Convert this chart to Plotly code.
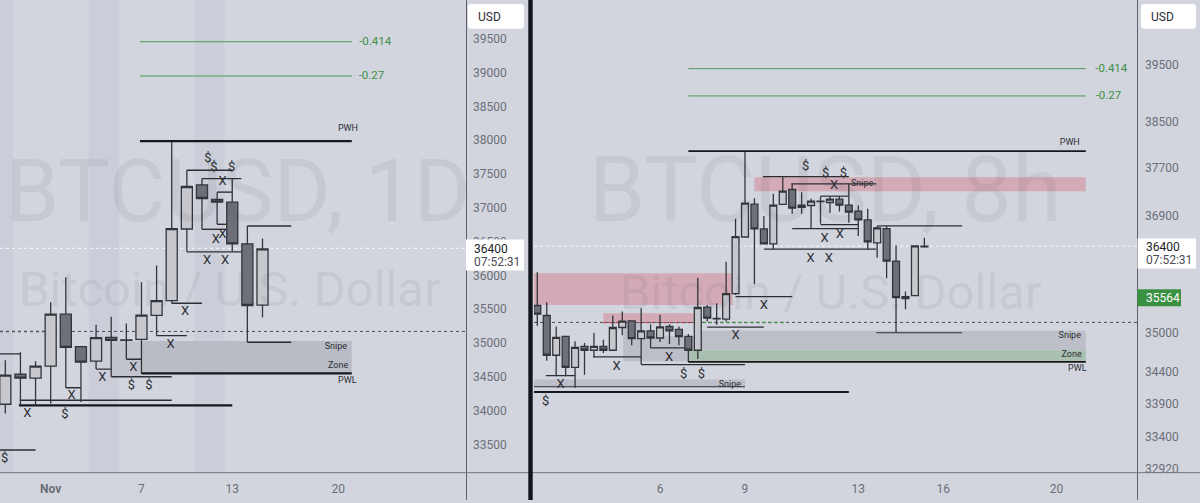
import plotly.graph_objects as go

# left pane, 1D candles, index 3 = Nov 1
left_open = [34093, 34539, 34480, 34657, 35426, 34946, 34730, 35083, 35039, 35054, 35407, 35627, 36686, 37338, 37122, 37083, 36466, 35559]
left_high = [34745, 34863, 34730, 35603, 35971, 34946, 35270, 35387, 35289, 35897, 36147, 37976, 37554, 37431, 37230, 37426, 36730, 36544]
left_low = [33956, 34093, 34093, 34103, 34338, 34127, 34613, 34500, 34760, 34549, 35108, 35588, 36348, 36681, 36755, 36358, 35010, 35377]
left_close = [34524, 34480, 34657, 35426, 34936, 34716, 35078, 35039, 35044, 35412, 35627, 36691, 37314, 37137, 37083, 36466, 35554, 36392]

# right pane, 8h candles, index 13 = Nov 6
right_open = [35439, 35280, 34654, 34950, 34466, 34794, 34732, 34794, 34732, 35090, 35196, 34913, 35038, 34924, 35106, 35059, 34950, 34732, 35412, 35227, 35222,
               35630, 36550, 37094, 36682, 36437, 37089, 37340, 37078, 37072, 37139, 37122, 37178, 37078, 36979, 36831, 36453, 36688, 36156, 35550, 35598, 36388]
right_high = [35972, 35492, 35106, 34950, 34872, 34846, 35002, 34898, 35280, 35344, 35196, 35396, 35143, 35291, 35143, 35106, 34986, 35886, 35449, 35476, 36143,
               36853, 37980, 37194, 36896, 37267, 37546, 37435, 37295, 37183, 37228, 37228, 37228, 37435, 37072, 37017, 36732, 36732, 36415, 35662, 36415, 36539]
right_low = [35116, 34570, 34326, 34326, 34151, 34352, 34622, 34690, 34732, 34966, 34809, 34508, 34768, 34861, 34830, 34809, 34550, 34596, 35185, 35132, 35185,
              35609, 36550, 35780, 36437, 36350, 37089, 36935, 36935, 36688, 36770, 36951, 36973, 36787, 36567, 36350, 36210, 35876, 35013, 35380, 35598, 36372]
right_close = [35301, 34654, 34934, 34466, 34778, 34732, 34794, 34732, 35090, 35190, 34913, 35038, 34924, 35101, 35038, 34945, 34732, 35407, 35238, 35232, 35629,
                36556, 37111, 36682, 36437, 37078, 37311, 37028, 37039, 37144, 37144, 37178, 37078, 36962, 36831, 36469, 36699, 36156, 35566, 35582, 36404, 36399]

left_ticks = [39500, 39000, 38500, 38000, 37500, 37000, 36500, 36000, 35500, 35000, 34500, 34000, 33500]
right_ticks = [39500, 38500, 37700, 36900, 36400, 35000, 34400, 33900, 33400, 32920]
left_dates = [3, 9, 15, 22]
left_date_labels = ["<b>Nov</b>", "7", "13", "20"]
right_dates = [13, 22, 34, 43, 55]
right_date_labels = ["6", "9", "13", "16", "20"]

# drawing tools, start index / end index / price
left_thin_x0 = [-0.35, -0.35, 4, 6, 8, 10, 11, 12, 13, 13, 14, 14, 12, 16, 16, 7, 1]
left_thin_x1 = [1, 2, 5, 7, 9, 12, 13, 15, 15.6, 14.6, 15, 14.6, 15.6, 18.9, 18.9, 11, 11]
left_thin_y = [34838, 33417, 34338, 34613, 34760, 35108, 35588, 37554, 37431, 36681, 37231, 36755, 36348, 36730, 35010, 34500, 34152]
left_thick_x0 = [8.9, 9, 0.9]
left_thick_x1 = [22.9, 22.9, 15]
left_thick_y = [37985, 34549, 34078]
left_fib_x0 = [8.9, 8.9]
left_fib_x1 = [22.9, 22.9]
left_fib_y = [39456, 38949]
left_box_x0 = [9]
left_box_x1 = [22.9]
left_box_top = [35029]
left_box_bottom = [34549]
left_soft_box_x0 = [7]
left_soft_box_x1 = [9]
left_soft_box_top = [35029]
left_soft_box_bottom = [34500]
left_weekend_x0 = [-0.35, 5.5, 12.5]
left_weekend_x1 = [0.5, 7.5, 14.5]

right_thin_x0 = [0.9, 5.9, 12, 18, 21, 23.9, 26.9, 30, 27, 30, 24, 36, 35.9, 11, -0.35]
right_thin_x1 = [4, 11, 16, 24, 27, 33, 35.9, 33, 34, 34, 35.9, 45, 45, 22, 22]
right_thin_y = [34336, 34628, 34768, 35096, 35582, 37557, 37435, 37228, 36688, 36754, 36350, 36732, 35007, 34508, 34166]
right_thick_x0 = [16, 16, -0.35]
right_thick_x1 = [58.1, 58.1, 33]
right_thick_y = [37991, 34550, 34085]
right_fib_x0 = [16, 16]
right_fib_x1 = [58.1, 58.1]
right_fib_y = [39429, 38947]
right_gray_x0 = [9.1, 11, 17, -0.35]
right_gray_x1 = [11, 17, 58.1, 22]
right_gray_top = [35170, 34950, 35038, 34279]
right_gray_bottom = [34560, 34560, 34727, 34161]
right_green_x0 = [16]
right_green_x1 = [58.1]
right_green_top = [34727]
right_green_bottom = [34550]
right_pink_x0 = [23, -0.35, 7]
right_pink_x1 = [58.1, 20.7, 16.9]
right_pink_top = [37546, 35956, 35317]
right_pink_bottom = [37311, 35449, 35185]

# the X and $ marks
left_mark_x = [1.45, -0.04, 3.94, 4.38, 6.41, 8.46, 8.33, 9.49, 10.93, 11.89, 13.33, 14.52, 13.92, 14.36, 14.36, 13.39, 13.79, 14.96]
left_mark_y = [33956, 33284, 33936, 34216, 34486, 34633, 34373, 34373, 34976, 35456, 36211, 36211, 36530, 36603, 37387, 37721, 37593, 37588]
left_mark_text = ["X", "$", "$", "X", "X", "X", "$", "$", "X", "X", "X", "X", "X", "X", "X", "$", "$", "$"]
right_mark_x = [2.47, 0.88, 8.41, 13.96, 15.51, 17.39, 21, 24, 28.96, 30.87, 30.44, 32.04, 28.43, 30.55, 32.42, 31.43]
right_mark_y = [34202, 33937, 34482, 34622, 34357, 34357, 34955, 35435, 36199, 36199, 36523, 36589, 37731, 37601, 37601, 37407]
right_mark_text = ["X", "$", "X", "X", "$", "$", "X", "X", "X", "X", "X", "X", "$", "$", "$", "X"]

left_label_x = [22.65, 21.85, 22, 22.6]
left_label_y = [38162, 34941, 34662, 34441]
left_label_text = ["PWH", "Snipe", "Zone", "PWL"]
right_label_x = [56.4, 56.4, 56.6, 57.2, 20.4, 34.4]
right_label_y = [38127, 34954, 34658, 34442, 34196, 37433]
right_label_text = ["PWH", "Snipe", "Zone", "PWL", "Snipe", "Snipe"]
left_fib_label_x = [24.45, 24.2]
right_fib_label_x = [60.8, 60.5]
fib_labels = ["-0.414", "-0.27"]

current_price = 36400
close_line = 35170

BG = "#d2d5de"
TEXT = "#6b6e78"
DARK = "#2c2e34"
FONT = "Roboto"
W, H = 1200, 503
PANE_BOTTOM = 476


def seg_shapes(x0s, x1s, ys, color, width, xa, ya, dash="solid"):
    return [dict(type="line", xref=xa, yref=ya, x0=a, x1=b, y0=y, y1=y, layer="below",
                 line=dict(color=color, width=width, dash=dash)) for a, b, y in zip(x0s, x1s, ys)]


def box_shapes(x0s, x1s, tops, bottoms, color, xa, ya):
    return [dict(type="rect", xref=xa, yref=ya, x0=a, x1=b, y0=u, y1=t, layer="below", fillcolor=color,
                 line=dict(width=0)) for a, b, t, u in zip(x0s, x1s, tops, bottoms)]


def add_lines(fig, x0s, x1s, ys, color, width, xa, ya):
    xs, yy = [], []
    for a, b, y in zip(x0s, x1s, ys):
        xs += [a, b, None]
        yy += [y, y, None]
    fig.add_trace(go.Scatter(x=xs, y=yy, mode="lines", line=dict(color=color, width=width),
                             hoverinfo="skip", xaxis=xa, yaxis=ya))


def add_text(fig, xs, ys, text, size, color, xa, ya):
    fig.add_trace(go.Scatter(x=xs, y=ys, mode="text", text=text, textposition="middle center",
                             textfont=dict(family=FONT, size=size, color=color), hoverinfo="skip", xaxis=xa, yaxis=ya))


def add_candles(fig, o, h, l, c, xa, ya):
    fig.add_trace(go.Candlestick(x=list(range(len(o))), open=o, high=h, low=l, close=c, xaxis=xa, yaxis=ya,
                                 increasing=dict(fillcolor="#c6c8ce", line=dict(color="#33353b", width=1.3)),
                                 decreasing=dict(fillcolor="#6d6f79", line=dict(color="#33353b", width=1.3)),
                                 whiskerwidth=0))


fig = go.Figure()

# candles go in the box layer, which sits under scatter, so fills and thin levels are shapes below
data_shapes = []
data_shapes += box_shapes(left_weekend_x0, left_weekend_x1, [40073] * 3, [33074] * 3, "#cbced8", "x", "y")
data_shapes += box_shapes(left_soft_box_x0, left_soft_box_x1, left_soft_box_top, left_soft_box_bottom, "#c2c5ce", "x", "y")
data_shapes += box_shapes(left_box_x0, left_box_x1, left_box_top, left_box_bottom, "#b9bcc5", "x", "y")
data_shapes += seg_shapes([-0.35], [30.45], [current_price], "#f1f2f6", 1.2, "x", "y", "dot")
data_shapes += seg_shapes([-0.35], [30.45], [close_line], "#4a4c55", 1, "x", "y", "dot")
data_shapes += seg_shapes([-0.35], [2.95], [close_line], "#55575f", 1.4, "x", "y", "dot")
data_shapes += seg_shapes(left_fib_x0, left_fib_x1, left_fib_y, "#4f9a55", 1, "x", "y")
data_shapes += seg_shapes(left_thin_x0, left_thin_x1, left_thin_y, DARK, 1.4, "x", "y")

data_shapes += box_shapes(right_pink_x0, right_pink_x1, right_pink_top, right_pink_bottom, "#d3aab5", "x2", "y2")
data_shapes += box_shapes(right_gray_x0, right_gray_x1, right_gray_top, right_gray_bottom, "#bcbfc8", "x2", "y2")
data_shapes += box_shapes(right_green_x0, right_green_x1, right_green_top, right_green_bottom, "#a9bfb0", "x2", "y2")
data_shapes += seg_shapes([-0.35], [63.63], [current_price], "#f1f2f6", 1.2, "x2", "y2", "dot")
data_shapes += seg_shapes([-0.35], [63.63], [close_line], "#4a4c55", 1, "x2", "y2", "dot")
data_shapes += seg_shapes([7], [16.9], [close_line], "#c0424f", 1.6, "x2", "y2", "dot")
data_shapes += seg_shapes([16.9], [26.5], [close_line], "#4c9a52", 1.4, "x2", "y2", "dot")
data_shapes += seg_shapes(right_fib_x0, right_fib_x1, right_fib_y, "#4f9a55", 1, "x2", "y2")
data_shapes += seg_shapes(right_thin_x0, right_thin_x1, right_thin_y, DARK, 1.2, "x2", "y2")

# left pane
add_candles(fig, left_open, left_high, left_low, left_close, "x", "y")
add_lines(fig, left_thick_x0, left_thick_x1, left_thick_y, "#17181c", 2.2, "x", "y")
add_text(fig, left_mark_x, left_mark_y, left_mark_text, 13, DARK, "x", "y")
add_text(fig, left_label_x, left_label_y, left_label_text, 9, DARK, "x", "y")
add_text(fig, left_fib_label_x, left_fib_y, fib_labels, 11.5, "#3f8f46", "x", "y")

# right pane
add_candles(fig, right_open, right_high, right_low, right_close, "x2", "y2")
add_lines(fig, right_thick_x0, right_thick_x1, right_thick_y, "#17181c", 1.8, "x2", "y2")
add_text(fig, right_mark_x, right_mark_y, right_mark_text, 13, DARK, "x2", "y2")
add_text(fig, right_label_x, right_label_y, right_label_text, 9, DARK, "x2", "y2")
add_text(fig, right_fib_label_x, right_fib_y, fib_labels, 11.5, "#3f8f46", "x2", "y2")


def rect(x0, y0, x1, y1, fill):
    return dict(type="rect", xref="paper", yref="paper", x0=x0 / W, x1=x1 / W, y0=1 - y0 / H, y1=1 - y1 / H,
                fillcolor=fill, line=dict(width=0), layer="above")


def rule(x0, y0, x1, y1, color, width):
    return dict(type="line", xref="paper", yref="paper", x0=x0 / W, x1=x1 / W, y0=1 - y0 / H, y1=1 - y1 / H,
                line=dict(color=color, width=width), layer="above")


def pill(x0, y0, x1, y1, r):
    # rounded white box behind USD
    px = lambda v: v / W
    py = lambda v: 1 - v / H
    path = (f"M {px(x0 + r)} {py(y0)} L {px(x1 - r)} {py(y0)} Q {px(x1)} {py(y0)} {px(x1)} {py(y0 + r)} "
            f"L {px(x1)} {py(y1 - r)} Q {px(x1)} {py(y1)} {px(x1 - r)} {py(y1)} "
            f"L {px(x0 + r)} {py(y1)} Q {px(x0)} {py(y1)} {px(x0)} {py(y1 - r)} "
            f"L {px(x0)} {py(y0 + r)} Q {px(x0)} {py(y0)} {px(x0 + r)} {py(y0)} Z")
    return dict(type="path", xref="paper", yref="paper", path=path, fillcolor="#ffffff", line=dict(width=0), layer="above")


shapes = data_shapes + [
    rule(466.5, 0, 466.5, H, "#5d606b", 1),
    rule(1137.5, 0, 1137.5, H, "#5d606b", 1),
    rule(0, 475.5, W, 475.5, "#73767f", 1),
    rect(528.3, 0, 532.7, H, "#12141b"),
    rect(466, 241, 524, 272, "#ffffff"),
    rect(1137.5, 240, 1196, 270, "#ffffff"),
    rect(1137.5, 291, 1181, 308, "#3b9142"),
    pill(468, 4, 524, 29, 3),
    pill(1141, 4, 1196, 29, 3),
]


def note(x, y, text, size, color, anchor="left"):
    return dict(xref="paper", yref="paper", x=x / W, y=1 - y / H, text=text, showarrow=False, xanchor=anchor,
                yanchor="middle", font=dict(family=FONT, size=size, color=color), borderpad=0)


WM = "rgba(60,64,80,0.08)"
annotations = [
    note(4, 192, "BTCUSD, 1D", 87, WM),
    note(588, 192, "BTCUSD, 8h", 90, WM),
    note(18, 291, "Bitcoin / U.S. Dollar", 49, WM),
    note(619, 294, "Bitcoin / U.S. Dollar", 49, WM),
    note(477, 17, "USD", 12, "#2c2e34"),
    note(1150, 17, "USD", 12, "#2c2e34"),
    note(473, 250, "36400", 12, "#1d1f25"),
    note(473, 264, "07:52:31", 12, "#4a4c55"),
    note(1145, 248, "36400", 12, "#1d1f25"),
    note(1145, 262, "07:52:31", 12, "#4a4c55"),
    note(1145, 300, "35564", 12, "#ffffff"),
]

axis_font = dict(family=FONT, size=12, color=TEXT)
fig.update_layout(
    width=W, height=H, margin=dict(l=0, r=0, t=0, b=0), showlegend=False,
    paper_bgcolor=BG, plot_bgcolor=BG, boxgap=0.27, boxgroupgap=0, hovermode=False,
    shapes=shapes, annotations=annotations,
    xaxis=dict(domain=[0, 466 / W], range=[-0.35, 30.45], tickvals=left_dates, ticktext=left_date_labels, showgrid=False,
               zeroline=False, rangeslider=dict(visible=False), anchor="y", tickfont=axis_font, ticks="", ticklabelstandoff=7),
    yaxis=dict(domain=[(H - PANE_BOTTOM) / H, 1], range=[33074, 40073], tickvals=left_ticks, ticktext=[str(t) for t in left_ticks],
               side="right", anchor="x", showgrid=False, zeroline=False, tickfont=axis_font, ticks="", ticklabelstandoff=6),
    xaxis2=dict(domain=[534 / W, 1138 / W], range=[-0.35, 63.63], tickvals=right_dates, ticktext=right_date_labels, showgrid=False,
                zeroline=False, rangeslider=dict(visible=False), anchor="y2", tickfont=axis_font, ticks="", ticklabelstandoff=7),
    yaxis2=dict(domain=[(H - PANE_BOTTOM) / H, 1], type="log", range=[4.51669, 4.60924], tickvals=right_ticks,
                ticktext=[str(t) for t in right_ticks], side="right", anchor="x2", showgrid=False, zeroline=False,
                tickfont=axis_font, ticks="", ticklabelstandoff=6),
)

# page body has a default margin, take it off so the chart sits at 0,0
fig.write_html("out.html", config=dict(displayModeBar=False), post_script="document.body.style.margin = '0';")
